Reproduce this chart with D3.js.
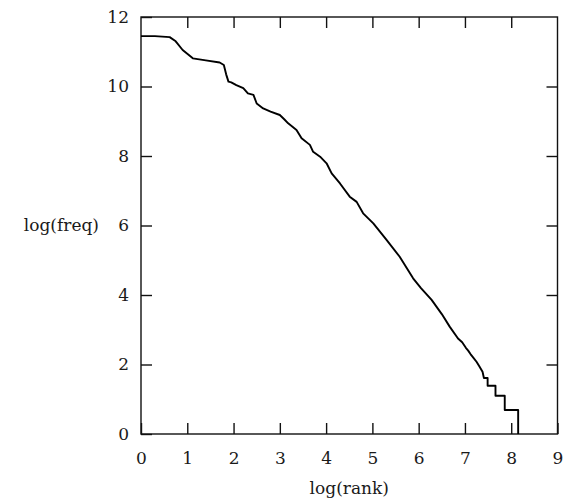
<!DOCTYPE html>
<html>
<head>
<meta charset="utf-8">
<script src="https://cdn.jsdelivr.net/npm/d3@7"></script>
<style>
  html, body { margin: 0; padding: 0; background: #fff; }
  text { font-family: "DejaVu Serif", "Liberation Serif", serif; fill: #1a1a1a; }
</style>
</head>
<body>
<svg id="chart" width="571" height="503"></svg>
<script>
// log(rank) values of the curve
const logRank = [0, 0.3, 0.62, 0.75, 0.9, 1.12, 1.4, 1.70, 1.79, 1.84, 1.89, 1.95, 2.06, 2.21, 2.31, 2.43, 2.50, 2.64, 2.8, 3.0, 3.1, 3.18, 3.36, 3.47, 3.65, 3.72, 3.87, 4.01, 4.12, 4.30, 4.51, 4.66, 4.80, 5.02, 5.31, 5.59, 5.88, 6.05, 6.28, 6.5, 6.67, 6.85, 6.94,
  6.94, 6.98, 6.98, 7.02, 7.02, 7.07, 7.07, 7.12, 7.12, 7.18, 7.18, 7.25, 7.25, 7.31, 7.31, 7.38, 7.38, 7.41, 7.49, 7.49, 7.66, 7.66, 7.86, 7.86, 8.15, 8.15];
// log(freq) values of the curve
const logFreq = [11.45, 11.45, 11.42, 11.3, 11.05, 10.81, 10.75, 10.69, 10.62, 10.35, 10.14, 10.12, 10.04, 9.95, 9.80, 9.76, 9.51, 9.37, 9.28, 9.18, 9.05, 8.94, 8.75, 8.51, 8.32, 8.12, 7.98, 7.79, 7.50, 7.21, 6.83, 6.68, 6.35, 6.06, 5.58, 5.10, 4.48, 4.20, 3.86, 3.45, 3.09, 2.75, 2.64,
  2.64, 2.56, 2.56, 2.48, 2.48, 2.40, 2.40, 2.30, 2.30, 2.20, 2.20, 2.08, 2.08, 1.95, 1.95, 1.79, 1.79, 1.61, 1.61, 1.39, 1.39, 1.10, 1.10, 0.69, 0.69, 0];
const xTicks = [0, 1, 2, 3, 4, 5, 6, 7, 8, 9];
const yTicks = [0, 2, 4, 6, 8, 10, 12];
const xTitle = "log(rank)";
const yTitle = "log(freq)";

const svg = d3.select("#chart");
const x = d3.scaleLinear().domain([0, 9]).range([141, 557.5]);
const y = d3.scaleLinear().domain([0, 12]).range([434, 17]);
const tickLen = 11;
const fs = "17px";

// frame
svg.append("rect")
  .attr("x", x(0)).attr("y", y(12))
  .attr("width", x(9) - x(0)).attr("height", y(0) - y(12))
  .attr("fill", "none").attr("stroke", "#111").attr("stroke-width", 1.4);

// axes via d3 axis generators (inward ticks)
const axB = svg.append("g").attr("transform", `translate(0,${y(0)})`)
  .call(d3.axisBottom(x).tickValues(xTicks).tickSizeInner(-tickLen).tickSizeOuter(0).tickPadding(18).tickFormat(d3.format("d")));
const axT = svg.append("g").attr("transform", `translate(0,${y(12)})`)
  .call(d3.axisTop(x).tickValues(xTicks.slice(1, -1)).tickSizeInner(-tickLen).tickSizeOuter(0).tickFormat(""));
const axL = svg.append("g").attr("transform", `translate(${x(0)},0)`)
  .call(d3.axisLeft(y).tickValues(yTicks).tickSizeInner(-tickLen).tickSizeOuter(0).tickPadding(12).tickFormat(d3.format("d")));
const axR = svg.append("g").attr("transform", `translate(${x(9)},0)`)
  .call(d3.axisRight(y).tickValues(yTicks.slice(1, -1)).tickSizeInner(-tickLen).tickSizeOuter(0).tickFormat(""));

[axB, axT, axL, axR].forEach(g => {
  g.select(".domain").remove();
  g.selectAll(".tick line").attr("stroke", "#111").attr("stroke-width", 1.4);
  g.selectAll(".tick text").style("font-family", '"DejaVu Serif", serif').style("font-size", fs).attr("fill", "#1a1a1a");
});

// curve
const pts = logRank.map((r, i) => [r, logFreq[i]]);
svg.append("path")
  .datum(pts)
  .attr("fill", "none")
  .attr("stroke", "#000")
  .attr("stroke-width", 1.9)
  .attr("stroke-linejoin", "round")
  .attr("d", d3.line().x(d => x(d[0])).y(d => y(d[1])));

// titles
svg.append("text")
  .attr("x", (x(0) + x(9)) / 2).attr("y", 494)
  .attr("text-anchor", "middle").style("font-size", fs)
  .text(xTitle);
svg.append("text")
  .attr("x", 99).attr("y", y(6)).attr("dy", "0.35em")
  .attr("text-anchor", "end").style("font-size", fs)
  .text(yTitle);
</script>
</body>
</html>
